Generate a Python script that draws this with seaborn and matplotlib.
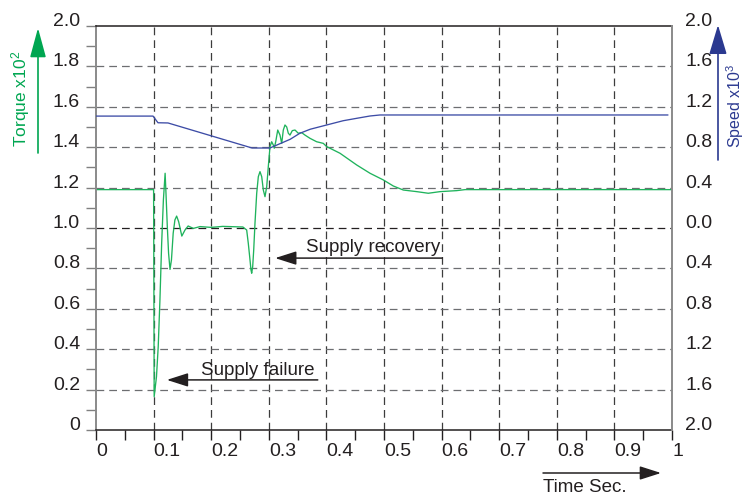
import matplotlib
matplotlib.use("Agg")
import matplotlib.pyplot as plt
from matplotlib.patches import FancyArrowPatch
import seaborn as sns

# Torque (x10^2) after a supply interruption, against time in seconds
torque_time = [0.000, 0.100, 0.1005, 0.1010, 0.1050, 0.1080, 0.1110, 0.1140, 0.1170,
               0.1200, 0.1215, 0.1238, 0.1260, 0.1285, 0.1310, 0.1340, 0.1370, 0.1400,
               0.1435, 0.1490, 0.1545, 0.1600, 0.1690, 0.1806, 0.2000, 0.2200, 0.2550,
               0.2616, 0.2644, 0.2668, 0.2691, 0.2703, 0.2720, 0.2738, 0.2760, 0.2790,
               0.2818, 0.2847, 0.2877, 0.2905, 0.2934, 0.2964, 0.2991, 0.3021, 0.3050,
               0.3078, 0.3095, 0.3120, 0.3155, 0.3194, 0.3224, 0.3252, 0.3281, 0.3311,
               0.3339, 0.3368, 0.3408, 0.3455, 0.3512, 0.3571, 0.3628, 0.3715, 0.3831,
               0.3946, 0.4005, 0.4236, 0.4526, 0.4757, 0.4988, 0.5161, 0.5335, 0.5568,
               0.5769, 0.5972, 0.6262, 0.6406, 1.000]
torque = [1.19, 1.19, 0.70, 0.165, 0.264, 0.412, 0.644, 0.924, 1.139,
          1.271, 1.172, 1.007, 0.875, 0.795, 0.842, 0.974, 1.040, 1.059,
          1.031, 0.960, 0.990, 1.010, 0.998, 1.007, 1.003, 1.008, 1.005,
          0.990, 0.924, 0.858, 0.792, 0.776, 0.808, 0.891, 1.023, 1.172,
          1.254, 1.279, 1.254, 1.188, 1.155, 1.205, 1.303, 1.403, 1.427,
          1.411, 1.395, 1.427, 1.485, 1.460, 1.419, 1.485, 1.510, 1.500,
          1.469, 1.460, 1.482, 1.485, 1.469, 1.472, 1.460, 1.444, 1.427,
          1.419, 1.403, 1.370, 1.312, 1.271, 1.238, 1.208, 1.188, 1.180,
          1.172, 1.180, 1.185, 1.190, 1.190]

# Speed (x10^3) over the same interval
speed_time = [0.000, 0.099, 0.1076, 0.125, 0.271, 0.302, 0.337, 0.354, 0.372,
              0.4005, 0.429, 0.4526, 0.4757, 0.493, 0.993]
speed = [1.108, 1.108, 1.042, 1.040, 0.792, 0.792, 0.878, 0.938, 0.978,
         1.020, 1.062, 1.086, 1.109, 1.119, 1.119]

x_ticks = [0.0, 0.1, 0.2, 0.3, 0.4, 0.5, 0.6, 0.7, 0.8, 0.9, 1.0]
x_tick_labels = ["0", "0.1", "0.2", "0.3", "0.4", "0.5", "0.6", "0.7", "0.8", "0.9", "1"]
torque_ticks = [0.0, 0.2, 0.4, 0.6, 0.8, 1.0, 1.2, 1.4, 1.6, 1.8, 2.0]
torque_tick_labels = ["0", "0.2", "0.4", "0.6", "0.8", "1.0", "1.2", "1.4", "1.6", "1.8", "2.0"]
speed_ticks = [-2.0, -1.6, -1.2, -0.8, -0.4, 0.0, 0.4, 0.8, 1.2, 1.6, 2.0]
speed_tick_labels = ["2.0", "1.6", "1.2", "0.8", "0.4", "0.0", "0.4", "0.8", "1.2", "1.6", "2.0"]

GREEN_LINE = "#1fb35c"
GREEN = "#00a651"
BLUE_LINE = "#3d4ca6"
BLUE = "#2b3990"
INK = "#231f20"

sns.set_theme(style="white")
plt.rcParams["font.family"] = ["Liberation Sans", "DejaVu Sans"]
plt.rcParams["mathtext.default"] = "regular"

W, H = 748, 495
fig = plt.figure(figsize=(W / 100, H / 100), dpi=100)
ax = fig.add_axes([96 / W, 1 - 430 / H, 576 / W, 404 / H])
ax2 = ax.twinx()
ax2.set_position(ax.get_position())

sns.lineplot(x=torque_time, y=torque, ax=ax, color=GREEN_LINE, linewidth=0.95,
             estimator=None, sort=False)
sns.lineplot(x=speed_time, y=speed, ax=ax2, color=BLUE_LINE, linewidth=0.95,
             estimator=None, sort=False)

ax.set_xlim(0, 1)
ax.set_ylim(0, 2)
ax2.set_ylim(-2, 2)

ax.set_xticks(x_ticks)
ax.set_xticklabels(x_tick_labels)
ax.set_xticks([0.05 + 0.1 * i for i in range(10)], minor=True)
ax.set_yticks(torque_ticks)
ax.set_yticklabels(torque_tick_labels)
ax.set_yticks([0.1 + 0.2 * i for i in range(10)], minor=True)
ax2.set_yticks(speed_ticks)
ax2.set_yticklabels(speed_tick_labels)

ax.tick_params(axis="x", which="both", direction="out", length=7, width=1.0,
               color=INK, pad=2, labelsize=14, labelcolor=INK, bottom=True)
ax.tick_params(axis="y", which="both", direction="out", length=7.2, width=1.0,
               color="#808080", pad=4.3, labelsize=14, labelcolor=INK, left=True)
ax2.tick_params(axis="y", which="both", length=0, pad=9.5, labelsize=14, labelcolor=INK)
plt.setp(ax.get_xticklabels(), ha="left")
plt.setp(ax.get_yticklabels(), va="baseline")
plt.setp(ax2.get_yticklabels(), va="baseline")

for a in (ax, ax2):
    a.set_xlabel("")
    a.set_ylabel("")
ax.spines["top"].set_color(INK)
ax.spines["top"].set_linewidth(1.1)
ax.spines["bottom"].set_color(INK)
ax.spines["bottom"].set_linewidth(1.1)
ax.spines["left"].set_color("#8a8a8a")
ax.spines["left"].set_linewidth(1.4)
ax.spines["right"].set_visible(False)
for side in ("top", "bottom", "left"):
    ax2.spines[side].set_visible(False)
ax2.spines["right"].set_color("#8a8a8a")
ax2.spines["right"].set_linewidth(1.4)

# dashed grid: vertical lines darker, the zero-speed line black
dash = (0, (6.2, 4.0))
ax.set_axisbelow(True)
ax.grid(axis="x", which="major", color="#3c3c3c", linestyle=dash, linewidth=0.9)
ax.grid(axis="y", which="major", color="#6d6e71", linestyle=dash, linewidth=0.9)
for tick_val, gl in zip(x_ticks, ax.get_xgridlines()):
    if tick_val in (0.0, 1.0):
        gl.set_visible(False)
for tick_val, gl in zip(torque_ticks, ax.get_ygridlines()):
    if tick_val in (0.0, 2.0):
        gl.set_visible(False)
    if tick_val == 1.0:
        gl.set_color(INK)

arrow_style = "-|>,head_length=1.0,head_width=0.32"

# event annotations
ax.text(0.597, 0.881, "Supply recovery", ha="right", va="baseline", fontsize=13.5, color=INK)
ax.annotate("", xy=(0.311, 0.851), xytext=(0.601, 0.851),
            arrowprops=dict(arrowstyle=arrow_style, mutation_scale=13, color=INK,
                            lw=1.1, shrinkA=0, shrinkB=0))
ax.text(0.380, 0.272, "Supply failure", ha="right", va="baseline", fontsize=13.5, color=INK)
ax.annotate("", xy=(0.123, 0.248), xytext=(0.385, 0.248),
            arrowprops=dict(arrowstyle=arrow_style, mutation_scale=13, color=INK,
                            lw=1.1, shrinkA=0, shrinkB=0))

# axis titles with direction arrows
fig.text(21 / W, 1 - 99 / H, "Torque x10$^2$", rotation=90, ha="center", va="center",
         fontsize=12.5, color=GREEN)
fig.add_artist(FancyArrowPatch((38 / W, 1 - 153 / H), (38 / W, 1 - 28 / H),
                               transform=fig.transFigure, arrowstyle="-|>,head_length=1.4,head_width=0.38",
                               mutation_scale=13, color=GREEN, lw=1.2, shrinkA=0, shrinkB=0))
fig.text(724 / W, 1 - 106 / H, "Speed x10$^3$", rotation=90, ha="left", va="center",
         fontsize=11.5, color=BLUE)
fig.add_artist(FancyArrowPatch((718 / W, 1 - 160 / H), (718 / W, 1 - 25 / H),
                               transform=fig.transFigure, arrowstyle="-|>,head_length=1.4,head_width=0.42",
                               mutation_scale=13, color=BLUE, lw=1.2, shrinkA=0, shrinkB=0))
fig.text(543 / W, 1 - 487 / H, "Time Sec.", ha="left", va="center", fontsize=13.5, color=INK)
fig.add_artist(FancyArrowPatch((543 / W, 1 - 473 / H), (661 / W, 1 - 473 / H),
                               transform=fig.transFigure, arrowstyle=arrow_style,
                               mutation_scale=13, color=INK, lw=1.1, shrinkA=0, shrinkB=0))

fig.savefig("out.png", dpi=100, facecolor="white")
